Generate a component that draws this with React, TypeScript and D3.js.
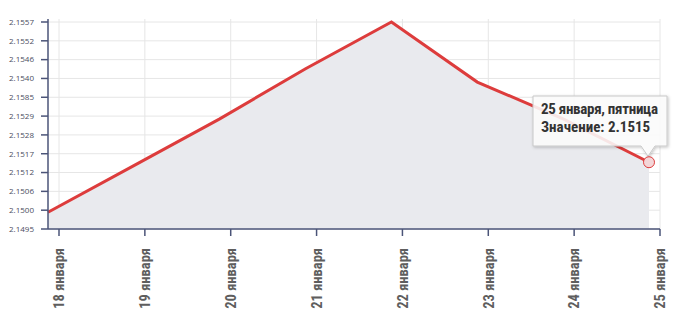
import React from "react";
import * as d3 from "d3";

const dates = ["18 января", "19 января", "20 января", "21 января", "22 января", "23 января", "24 января", "25 января"];
const values = [2.15, 2.1514, 2.1528, 2.1543, 2.1557, 2.1539, 2.1528, 2.1515];
const yTickLabels = ["2.1495", "2.1500", "2.1506", "2.1512", "2.1517", "2.1528", "2.1529", "2.1585", "2.1540", "2.1546", "2.1552", "2.1557"];
const tooltipLines = ["25 января, пятница", "Значение: 2.1515"];

const W = 679;
const H = 320;
const axisX = 48;
const bottom = 229;
const top = 22;
const narrow = "'Roboto Condensed', 'Liberation Sans Narrow', 'Arial Narrow', Roboto, sans-serif";

export default function App() {
  const x = d3.scalePoint<string>().domain(dates).range([48, 649]);
  const xTick = d3.scalePoint<string>().domain(dates).range([59, 660]);
  const y = d3.scaleLinear().domain([2.1495, 2.1557]).range([bottom, top]);
  const yTick = d3.scalePoint<string>().domain(yTickLabels).range([bottom, top]);

  const pts: [number, number][] = dates.map((d, i) => [x(d)!, y(values[i])]);
  const line = d3.line()(pts)!;
  const area = d3.area().x((p: any) => p[0]).y0(bottom).y1((p: any) => p[1])(pts)!;
  const last = pts[pts.length - 1];

  const bx0 = 533, bx1 = 667, by0 = 96, by1 = 146;
  const tipX = last[0] - 1, tipY = last[1] - 6;
  const tooltipPath = `M${bx0},${by0}H${bx1}V${by1}H${tipX + 7}L${tipX},${tipY}L${tipX - 7},${by1}H${bx0}Z`;

  return (
    <svg width={W} height={H} style={{ position: "absolute", left: 0, top: 0 }}>
      <defs>
        <filter id="sh" x="-20%" y="-20%" width="140%" height="150%">
          <feDropShadow dx="1" dy="1" stdDeviation="1.5" floodColor="#000" floodOpacity="0.25" />
        </filter>
      </defs>
      <rect width={W} height={H} fill="#fff" />
      {yTickLabels.map((t) => (
        <line key={"gy" + t} x1={axisX} x2={660} y1={yTick(t)} y2={yTick(t)} stroke="#e6e6e6" strokeWidth={1} />
      ))}
      {dates.map((d) => (
        <line key={"gx" + d} x1={xTick(d)} x2={xTick(d)} y1={19} y2={bottom} stroke="#e6e6e6" strokeWidth={1} />
      ))}
      <path d={area} fill="#e9eaee" />
      <path d={line} fill="none" stroke="#dd3c3c" strokeWidth={3} strokeLinejoin="miter" />
      <line x1={axisX} x2={axisX} y1={19} y2={bottom} stroke="#4b5478" strokeWidth={1.5} />
      <line x1={axisX} x2={660} y1={bottom} y2={bottom} stroke="#4b5478" strokeWidth={1.5} />
      {yTickLabels.map((t) => (
        <g key={"ty" + t}>
          <line x1={41} x2={axisX} y1={yTick(t)} y2={yTick(t)} stroke="#4b5478" strokeWidth={1.5} />
          <text x={34} y={yTick(t)} dy="0.35em" textAnchor="end" fontSize={8} fontFamily="'Open Sans', sans-serif" fill="#4a4d5e">
            {t}
          </text>
        </g>
      ))}
      {dates.map((d) => (
        <g key={"tx" + d}>
          <line x1={xTick(d)} x2={xTick(d)} y1={bottom} y2={236} stroke="#4b5478" strokeWidth={1.5} />
          <text
            transform={`translate(${xTick(d)},248) rotate(-90)`}
            dy="0.36em"
            textAnchor="end"
            fontSize={14.5}
            fontWeight="bold"
            fontFamily={narrow}
            fill="#5e5e5e"
          >
            {d}
          </text>
        </g>
      ))}
      <path d={tooltipPath} fill="#fff" fillOpacity={0.85} stroke="#c8c8c8" strokeWidth={1} filter="url(#sh)" />
      {tooltipLines.map((t, i) => (
        <text key={t} x={541} y={114 + i * 18} fontSize={15} fontWeight="bold" fontFamily={narrow} fill="#333" textLength={i === 0 ? 117 : undefined}>
          {t}
        </text>
      ))}
      <circle cx={last[0]} cy={last[1]} r={5.5} fill="#f3d6d8" stroke="#dd3c3c" strokeWidth={1} />
    </svg>
  );
}
